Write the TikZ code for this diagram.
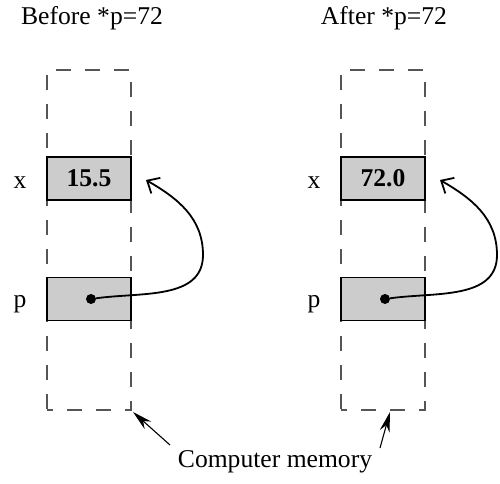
\documentclass[tikz,border=0pt]{standalone}
\usepackage{fontspec}
\setmainfont{Liberation Serif}
\usepackage{tikz}
\usetikzlibrary{arrows.meta}
\definecolor{cellgray}{HTML}{CCCCCC}
\definecolor{memline}{HTML}{555555}

\begin{document}
\begin{tikzpicture}[x=1pt,y=1pt,font=\fontsize{25.6}{30}\selectfont]
\useasboundingbox (0,0) rectangle (500,483);
\tikzset{
  memory/.style={draw=memline, line width=1.1pt, dash pattern=on 15pt off 14pt, dash phase=9pt, minimum width=84pt, minimum height=340pt, inner sep=0pt},
  cell/.style={draw, line width=1.6pt, fill=cellgray, minimum width=84pt, minimum height=43pt, inner sep=0pt},
  dot/.style={circle, fill, inner sep=0pt, minimum size=10pt},
  pointer/.style={line width=1.8pt, -{Straight Barb[length=10pt,width=18pt,line width=1.8pt]}},
  label/.style={line width=1.1pt, -{Stealth[length=20pt,width=10pt]}}
}
% before
\node at (92,465) (titlea) {Before *p=72};
\node[memory] (mema) at (89,243) {};
\node[cell] (xa) at (89,304.5) {\textbf{15.5}};
\node[cell] (pa) at (89,184) {};
\node[anchor=base] (lxa) at (20,295) {x};
\node[anchor=base] (lpa) at (20,176) {p};
\node[dot] (da) at (91,184) {};
\coordinate (ta) at (146,303);
\draw[pointer] (da) to[out=8,in=-90] (203,228) to[out=90,in=-30] (ta);
% after
\node at (384,465) (titleb) {After *p=72};
\node[memory] (memb) at (383,243) {};
\node[cell] (xb) at (383,304.5) {\textbf{72.0}};
\node[cell] (pb) at (383,184) {};
\node[anchor=base] (lxb) at (314,295) {x};
\node[anchor=base] (lpb) at (314,176) {p};
\node[dot] (db) at (385,184) {};
\coordinate (tb) at (440,303);
\draw[pointer] (db) to[out=8,in=-90] (497,228) to[out=90,in=-30] (tb);
% memory label
\node (cm) at (275,21) {Computer memory};
\coordinate (ca) at (170,38);
\coordinate (cb) at (380,35);
\coordinate (ea) at (133,71);
\coordinate (eb) at (390,71);
\draw[label] (ca) -- (ea);
\draw[label] (cb) -- (eb);
\end{tikzpicture}
\end{document}
